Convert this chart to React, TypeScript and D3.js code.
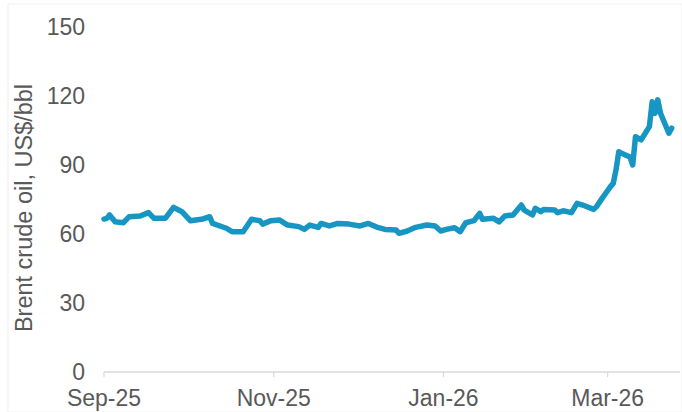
import React from "react";
import * as d3 from "d3";

// Brent crude, US$/bbl
const dates = [
  "2025-09-01", "2025-09-02", "2025-09-03", "2025-09-05", "2025-09-08", "2025-09-10",
  "2025-09-14", "2025-09-17", "2025-09-19", "2025-09-23", "2025-09-26", "2025-09-29",
  "2025-10-02", "2025-10-06", "2025-10-09", "2025-10-10", "2025-10-15", "2025-10-17",
  "2025-10-21", "2025-10-23", "2025-10-24", "2025-10-27", "2025-10-28", "2025-10-31",
  "2025-11-03", "2025-11-06", "2025-11-10", "2025-11-12", "2025-11-14", "2025-11-17",
  "2025-11-18", "2025-11-21", "2025-11-24", "2025-11-28", "2025-12-02", "2025-12-05",
  "2025-12-08", "2025-12-11", "2025-12-15", "2025-12-16", "2025-12-19", "2025-12-22",
  "2025-12-26", "2025-12-29", "2025-12-31", "2026-01-02", "2026-01-05", "2026-01-07",
  "2026-01-09", "2026-01-12", "2026-01-14", "2026-01-15", "2026-01-19", "2026-01-21",
  "2026-01-23", "2026-01-26", "2026-01-29", "2026-01-30", "2026-02-02", "2026-02-03",
  "2026-02-05", "2026-02-06", "2026-02-10", "2026-02-11", "2026-02-13", "2026-02-16",
  "2026-02-18", "2026-02-20", "2026-02-24", "2026-02-25", "2026-02-27", "2026-03-02",
  "2026-03-03", "2026-03-04", "2026-03-05", "2026-03-06", "2026-03-09", "2026-03-10",
  "2026-03-11", "2026-03-13", "2026-03-16", "2026-03-17", "2026-03-18", "2026-03-19",
  "2026-03-20", "2026-03-23", "2026-03-24",
];
const brent = [
  66.5, 66.8, 68.3, 65.3, 64.9, 67.5,
  67.8, 69.3, 66.8, 66.8, 71.6, 69.7,
  65.8, 66.4, 67.5, 64.6, 62.5, 61.0,
  61.0, 64.6, 66.4, 65.8, 64.3, 65.8,
  66.1, 63.9, 63.2, 62.0, 63.9, 62.9,
  64.6, 63.5, 64.6, 64.3, 63.5, 64.6,
  63.0, 62.0, 61.7, 60.3, 61.3, 62.9,
  63.9, 63.5, 61.3, 62.0, 62.7, 61.0,
  64.9, 65.8, 69.0, 66.4, 66.8, 65.3,
  67.8, 68.3, 72.6, 70.4, 68.3, 71.2,
  69.7, 70.7, 70.4, 69.3, 70.1, 69.3,
  73.3, 72.6, 70.7, 71.9, 75.5, 80.6,
  82.0, 87.8, 95.8, 95.1, 93.5, 90.0,
  102.3, 100.9, 106.7, 117.5, 112.5, 118.3,
  112.5, 103.8, 106.0,
];
const yTicks = [0, 30, 60, 90, 120, 150];
const xTicks = ["2025-09-01", "2025-11-01", "2026-01-01", "2026-03-01"];

const W = 682;
const H = 412;
const FONT = "'Liberation Sans', Arial, sans-serif";
const GREY = "#595959";

export default function App() {
  const parse = d3.utcParse("%Y-%m-%d");
  const points = dates.map((d, i) => ({ date: parse(d) as Date, value: brent[i] }));

  const x = d3
    .scaleUtc()
    .domain([parse("2025-09-01") as Date, parse("2026-03-27") as Date])
    .range([104, 680]);
  const y = d3.scaleLinear().domain([0, 150]).range([372, 27]);

  const line = d3
    .line<{ date: Date; value: number }>()
    .x((d) => x(d.date))
    .y((d) => y(d.value))
    .curve(d3.curveLinear);

  const fmt = d3.utcFormat("%b-%y");

  return (
    <svg
      width={W}
      height={H}
      style={{ position: "absolute", left: 0, top: 0, background: "#fff" }}
      fontFamily={FONT}
    >
      {/* faint chart frame */}
      <rect x={8} y={4} width={W - 8} height={H - 4} fill="none" stroke="#f0f0f0" strokeWidth={1} />

      {/* y axis labels */}
      {yTicks.map((t) => (
        <text
          key={t}
          x={85}
          y={y(t)}
          textAnchor="end"
          dominantBaseline="central"
          fontSize={23}
          fill={GREY}
        >
          {t}
        </text>
      ))}

      {/* y axis title */}
      <text
        transform={`translate(32, 208) rotate(-90)`}
        textAnchor="middle"
        fontSize={23.5}
        fill={GREY}
      >
        Brent crude oil, US$/bbl
      </text>

      {/* x axis */}
      <line x1={x.range()[0]} x2={x.range()[1]} y1={y(0)} y2={y(0)} stroke="#d9d9d9" strokeWidth={1.5} />
      {xTicks.map((t) => {
        const d = parse(t) as Date;
        return (
          <g key={t} transform={`translate(${x(d)},0)`}>
            <line y1={y(0)} y2={y(0) + 5} stroke="#d9d9d9" strokeWidth={1.2} />
            <text y={406} textAnchor="middle" fontSize={23} fill={GREY}>
              {fmt(d)}
            </text>
          </g>
        );
      })}

      {/* series */}
      <path
        d={line(points) ?? ""}
        fill="none"
        stroke="#1796c3"
        strokeWidth={5.5}
        strokeLinejoin="round"
        strokeLinecap="round"
      />
    </svg>
  );
}
